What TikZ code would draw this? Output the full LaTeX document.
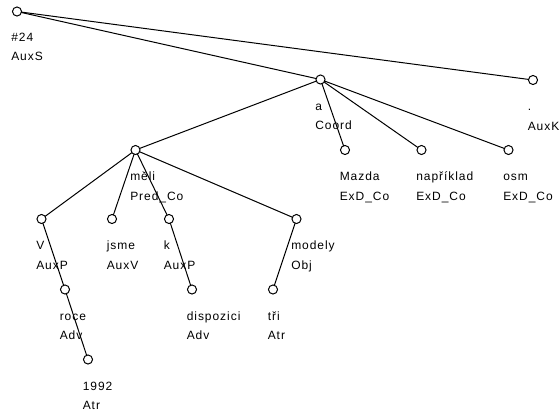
\documentclass[tikz,border=0pt]{standalone}
\usepackage{fontspec}
\setmainfont[LetterSpace=8]{Liberation Sans}
\begin{document}
\begin{tikzpicture}[x=0.75pt,y=-0.75pt,
  tn/.style={circle,draw=black,fill=white,line width=0.75pt,inner sep=0pt,minimum size=6.8pt},
  edge/.style={draw=black,line width=0.75pt},
  lab/.style={anchor=base west,inner sep=0pt,font=\fontsize{9}{10}\selectfont,text=black}]
\useasboundingbox (0,0) rectangle (560,412);
% tree nodes
\coordinate (root) at (17,11.5);
\coordinate (a) at (320.5,79.5);
\coordinate (auxk) at (533,80);
\coordinate (meli) at (135.5,150);
\coordinate (mazda) at (345,150);
\coordinate (napr) at (421.5,150);
\coordinate (osm) at (508.5,150);
\coordinate (v) at (41.5,219);
\coordinate (jsme) at (112,219);
\coordinate (k) at (169,219);
\coordinate (modely) at (296.5,219);
\coordinate (roce) at (65,289.5);
\coordinate (dispozici) at (192,289.5);
\coordinate (tri) at (273,289.5);
\coordinate (y1992) at (88,359.5);
% edges
\draw[edge] (root) -- (a);
\draw[edge] (root) -- (auxk);
\draw[edge] (a) -- (meli);
\draw[edge] (a) -- (mazda);
\draw[edge] (a) -- (napr);
\draw[edge] (a) -- (osm);
\draw[edge] (meli) -- (v);
\draw[edge] (meli) -- (jsme);
\draw[edge] (meli) -- (k);
\draw[edge] (meli) -- (modely);
\draw[edge] (v) -- (roce);
\draw[edge] (roce) -- (y1992);
\draw[edge] (k) -- (dispozici);
\draw[edge] (modely) -- (tri);
% circles
\foreach \n in {root,a,auxk,meli,mazda,napr,osm,v,jsme,k,modely,roce,dispozici,tri,y1992}
  \node[tn] (c\n) at (\n) {};
% labels
\newcommand{\twolab}[3]{%
  \node[lab] (l1#1) at ([shift={(-5.5,30.5)}]#1) {#2};
  \node[lab] (l2#1) at ([shift={(-5.5,50)}]#1) {#3};}
\node[lab] (l1root) at ([shift={(-6,30)}]root) {\#24};
\node[lab] (l2root) at ([shift={(-6,48.5)}]root) {AuxS};
\twolab{a}{a}{Coord}
\twolab{auxk}{.}{AuxK}
\twolab{meli}{měli}{Pred\_Co}
\twolab{mazda}{Mazda}{ExD\_Co}
\twolab{napr}{například}{ExD\_Co}
\twolab{osm}{osm}{ExD\_Co}
\twolab{v}{V}{AuxP}
\twolab{jsme}{jsme}{AuxV}
\twolab{k}{k}{AuxP}
\twolab{modely}{modely}{Obj}
\twolab{roce}{roce}{Adv}
\twolab{dispozici}{dispozici}{Adv}
\twolab{tri}{tři}{Atr}
\twolab{y1992}{1992}{Atr}
\end{tikzpicture}
\end{document}
